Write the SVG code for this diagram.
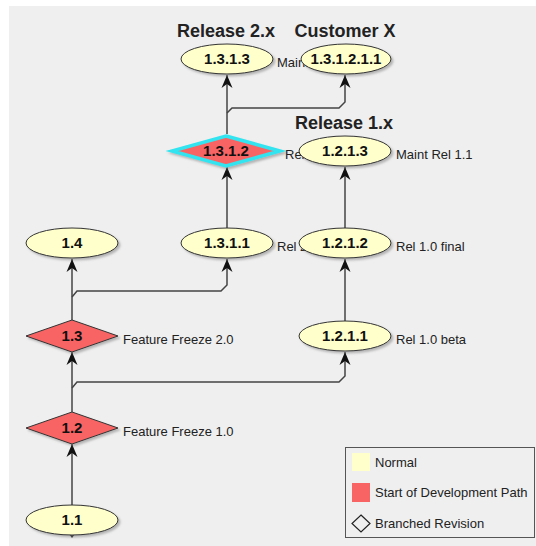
<svg xmlns="http://www.w3.org/2000/svg" width="536" height="546" viewBox="0 0 536 546">
<style>
.bg{fill:#efefef}
.nd{stroke:#333;stroke-width:1;filter:url(#sh)}
.norm{fill:#ffffcc}
.start{fill:#f86464}
.hl{stroke:#33e4f0;stroke-width:3.5}
.nt{font-family:"Liberation Sans",Arial,sans-serif;font-size:15px;font-weight:bold;fill:#111;text-anchor:middle}
.lb{font-family:"Liberation Sans",Arial,sans-serif;font-size:13px;fill:#222}
.tt{font-family:"Liberation Sans",Arial,sans-serif;font-size:18px;font-weight:bold;fill:#222;text-anchor:middle}
.cn{fill:none;stroke:#444;stroke-width:1.5;marker-end:url(#ar)}
</style>
<defs>
<filter id="sh" x="-20%" y="-30%" width="150%" height="180%">
<feDropShadow dx="2" dy="2" stdDeviation="1.2" flood-color="#777" flood-opacity="0.5"/>
</filter>
<marker id="ar" markerUnits="userSpaceOnUse" viewBox="0 -6 13 12" refX="13" refY="0" markerWidth="13" markerHeight="12" orient="auto">
<path d="M0,-5.5 L13,0 L0,5.5 L4,0 Z" fill="#111"/>
</marker>
</defs>
<rect class="bg" x="9" y="6" width="527" height="540"/>

<g id="connectors">
<path class="cn" d="M72,505 L72,444"/>
<path class="cn" d="M72,412 L72,352"/>
<path class="cn" d="M72,388 L77,382 L339,382 L345,376 L345,352"/>
<path class="cn" d="M72,320 L72,259"/>
<path class="cn" d="M72,297 L77,291 L221,291 L227,285 L227,259"/>
<path class="cn" d="M345,321 L345,259"/>
<path class="cn" d="M227,228 L227,167"/>
<path class="cn" d="M345,228 L345,167"/>
<path class="cn" d="M227,134 L227,75"/>
<path class="cn" d="M227,113 L232,108 L339,108 L345,102 L345,75"/>
<path d="M69,534 L75,534 L72,538 Z" fill="#222"/>
</g>

<g id="title-release2"><text class="tt" x="226" y="37">Release 2.x</text></g>
<g id="title-customer"><text class="tt" x="345" y="37">Customer X</text></g>
<g id="title-release1"><text class="tt" x="344" y="129">Release 1.x</text></g>

<g id="n1.1">
<ellipse class="nd norm" cx="72" cy="520" rx="46" ry="15"/>
<text class="nt" x="72" y="525">1.1</text>
</g>
<g id="n1.2">
<polygon class="nd start" points="72,412 118,428 72,444 26,428"/>
<text class="nt" x="72" y="433">1.2</text>
<text class="lb" x="123" y="436">Feature Freeze 1.0</text>
</g>
<g id="n1.3">
<polygon class="nd start" points="72,320 118,336 72,352 26,336"/>
<text class="nt" x="72" y="341">1.3</text>
<text class="lb" x="123" y="344">Feature Freeze 2.0</text>
</g>
<g id="n1.4">
<ellipse class="nd norm" cx="72" cy="243" rx="46" ry="15"/>
<text class="nt" x="72" y="248">1.4</text>
</g>
<g id="n1.3.1.1">
<ellipse class="nd norm" cx="227" cy="243" rx="46" ry="15"/>
<text class="nt" x="227" y="248">1.3.1.1</text>
<text class="lb" x="277" y="251">Rel 2.0</text>
</g>
<g id="n1.2.1.1">
<ellipse class="nd norm" cx="345" cy="336" rx="46" ry="15"/>
<text class="nt" x="345" y="341">1.2.1.1</text>
<text class="lb" x="396" y="344">Rel 1.0 beta</text>
</g>
<g id="n1.2.1.2">
<ellipse class="nd norm" cx="345" cy="243" rx="46" ry="15"/>
<text class="nt" x="345" y="248">1.2.1.2</text>
<text class="lb" x="396" y="251">Rel 1.0 final</text>
</g>
<g id="n1.3.1.2">
<polygon class="nd start hl" points="226,136 280,151 226,166 172,151"/>
<text class="nt" x="226" y="156">1.3.1.2</text>
<text class="lb" x="285" y="159">Rel 2.0</text>
</g>
<g id="n1.2.1.3">
<ellipse class="nd norm" cx="345" cy="151" rx="46" ry="15"/>
<text class="nt" x="345" y="156">1.2.1.3</text>
<text class="lb" x="396" y="159">Maint Rel 1.1</text>
</g>
<g id="n1.3.1.3">
<ellipse class="nd norm" cx="227" cy="59" rx="46" ry="15"/>
<text class="nt" x="227" y="64">1.3.1.3</text>
<text class="lb" x="277" y="67">Maint</text>
</g>
<g id="n1.3.1.2.1.1">
<ellipse class="nd norm" cx="346" cy="59" rx="45" ry="15"/>
<text class="nt" x="346" y="64">1.3.1.2.1.1</text>
</g>

<g id="legend">
<rect x="345.5" y="447.5" width="189" height="90" fill="#efefef" stroke="#555" stroke-width="1"/>
<rect x="352" y="453" width="18" height="18" fill="#ffffcc"/>
<text class="lb" x="375" y="467">Normal</text>
<rect x="352" y="483" width="18" height="19" fill="#f86464"/>
<text class="lb" x="375" y="497">Start of Development Path</text>
<polygon points="361,515 370,523.5 361,532 352,523.5" fill="none" stroke="#222" stroke-width="1.2"/>
<text class="lb" x="375" y="528">Branched Revision</text>
</g>
</svg>
